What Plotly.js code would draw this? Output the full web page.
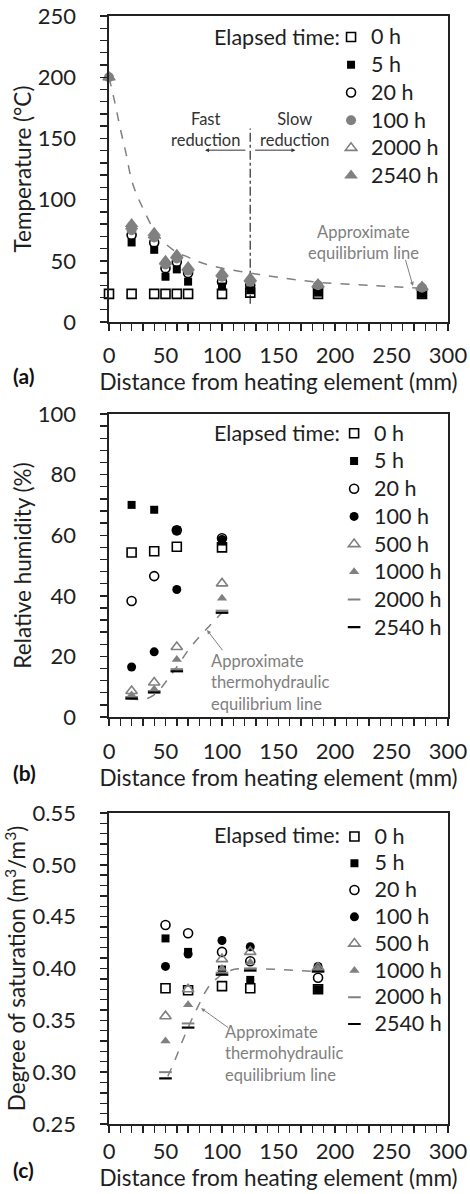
<!DOCTYPE html>
<html>
<head>
<meta charset="utf-8">
<script src="https://cdn.plot.ly/plotly-3.0.1.min.js"></script>
<style>
  html, body { margin: 0; padding: 0; background: #fff; }
  #chart { width: 470px; height: 1194px; }
</style>
</head>
<body>
<div id="chart"></div>
<script>
// ---------- (a) Temperature ----------
const distA = [0, 20, 40, 50, 60, 70, 100, 125, 185, 277];
const tempA_0h = [23, 23, 23, 23, 23, 23, 23, 24, 23, 23];
const tempA_5h = [null, 65, 59, 37, 43, 33, 29, 26, 24, 23];
const tempA_20h = [null, 71, 65, 44, 49, 40, 33, 30, 28, 26];
const tempA_100h = [200, 75, 69, 47, 52, 42, 37, 33, 30, 28];
const tempA_2000h = [200, 78, 71, 49, 54, 44, 39, 35, 30, 28];
const tempA_2540h = [200, 80, 73, 50, 55, 45, 40, 36, 31, 29];
const eqA_x = [0, 5, 10, 15, 20, 25, 30, 40, 50, 60, 70, 80, 100, 125, 150, 185, 230, 277];
const eqA_y = [200, 180, 158, 138, 116, 103, 93, 75, 64, 57, 53, 49, 44, 40, 36.5, 32.5, 30, 27.5];
const boundaryA_x = [125, 125];
const boundaryA_y = [15, 158];
const labelsA = ['0 h', '5 h', '20 h', '100 h', '2000 h', '2540 h'];

// ---------- (b) Relative humidity ----------
const distB = [20, 40, 60, 100];
const rh_0h = [54.3, 54.7, 56.2, 56.0];
const rh_5h = [70.0, 68.4, 61.6, 57.9];
const rh_20h = [38.3, 46.5, 61.6, 59.0];
const rh_100h = [16.5, 21.5, 42.1, 58.6];
const rh_500h = [8.6, 11.4, 23.1, 44.1];
const rh_1000h = [7.3, 9.2, 19.0, 39.2];
const rh_2000h = [6.6, 8.6, 15.8, 35.1];
const rh_2540h = [6.1, 8.1, 15.1, 34.4];
const eqB_x = [18, 25, 30, 35, 40, 45, 50, 55, 60, 70, 80, 90, 100];
const eqB_y = [6, 5.8, 5.8, 6.3, 7.3, 9, 11.5, 14, 16.5, 22, 26.5, 30.5, 34.5];

// ---------- (c) Degree of saturation ----------
const distC = [50, 70, 100, 125, 185];
const sr_0h = [0.381, 0.379, 0.383, 0.381, 0.380];
const sr_5h = [0.429, 0.416, 0.399, 0.389, 0.380];
const sr_20h = [0.442, 0.434, 0.416, 0.407, 0.391];
const sr_100h = [0.402, 0.414, 0.427, 0.421, 0.402];
const sr_500h = [0.354, 0.380, 0.409, 0.416, 0.401];
const sr_1000h = [0.330, 0.365, 0.400, 0.406, 0.400];
const sr_2000h = [0.300, 0.347, 0.396, 0.400, 0.398];
const sr_2540h = [0.294, 0.343, 0.394, 0.398, 0.397];
const eqC_x = [52, 55, 60, 65, 70, 75, 80, 85, 90, 95, 100, 110, 125, 150, 185];
const eqC_y = [0.296, 0.303, 0.316, 0.330, 0.343, 0.355, 0.366, 0.377, 0.385, 0.390, 0.394, 0.399, 0.400, 0.399, 0.397];
const labelsBC = ['0 h', '5 h', '20 h', '100 h', '500 h', '1000 h', '2000 h', '2540 h'];

const GREY = '#808080';
const INK = '#1e1e1e';
const FONT = 'Lato, "Open Sans", sans-serif';

// marker styles for each elapsed time
const mk = {
  open_sq:  {symbol: 'square-open', size: 9, color: '#000', line: {width: 1.6, color: '#000'}},
  fill_sq:  {symbol: 'square', size: 8, color: '#000'},
  open_ci:  {symbol: 'circle-open', size: 9, color: '#000', line: {width: 1.6, color: '#000'}},
  grey_ci:  {symbol: 'circle', size: 10, color: GREY},
  fill_ci:  {symbol: 'circle', size: 9, color: '#000'},
  open_tri: {symbol: 'triangle-up-open', size: 10, color: GREY, line: {width: 1.6, color: GREY}},
  grey_tri: {symbol: 'triangle-up', size: 12, color: GREY},
  grey_tri_s: {symbol: 'triangle-up', size: 9, color: GREY},
  grey_dash: {symbol: 'line-ew', size: 9, color: GREY, line: {width: 2, color: GREY}},
  blk_dash:  {symbol: 'line-ew', size: 9, color: '#000', line: {width: 2.2, color: '#000'}}
};

// legend entries are set a little larger than the legend row pitch
const legendName = (s) => '<span style="font-size:21.5px">' + s + '</span>';

function pts(x, y, name, marker, xa, ya, leg) {
  return {type: 'scatter', mode: 'markers', x: x, y: y, name: legendName(name), marker: marker,
          xaxis: xa, yaxis: ya, legend: leg, cliponaxis: false};
}
function eqLine(x, y, xa, ya) {
  return {type: 'scatter', mode: 'lines', x: x, y: y, xaxis: xa, yaxis: ya, showlegend: false,
          line: {color: GREY, width: 1.5, dash: 'dash', shape: 'spline'}, hoverinfo: 'skip'};
}

const seriesA = [tempA_0h, tempA_5h, tempA_20h, tempA_100h, tempA_2000h, tempA_2540h];
const styleA = [mk.open_sq, mk.fill_sq, mk.open_ci, mk.grey_ci, mk.open_tri, mk.grey_tri];
const seriesB = [rh_0h, rh_5h, rh_20h, rh_100h, rh_500h, rh_1000h, rh_2000h, rh_2540h];
const seriesC = [sr_0h, sr_5h, sr_20h, sr_100h, sr_500h, sr_1000h, sr_2000h, sr_2540h];
const styleBC = [mk.open_sq, mk.fill_sq, mk.open_ci, mk.fill_ci, mk.open_tri, mk.grey_tri_s, mk.grey_dash, mk.blk_dash];

const traces = [];
traces.push(eqLine(eqA_x, eqA_y, 'x', 'y'));
traces.push({type: 'scatter', mode: 'lines', x: boundaryA_x, y: boundaryA_y, xaxis: 'x', yaxis: 'y',
             showlegend: false, line: {color: '#555', width: 1.5, dash: 'dashdot'}, hoverinfo: 'skip'});
seriesA.forEach((s, i) => traces.push(pts(distA, s, labelsA[i], styleA[i], 'x', 'y', 'legend')));
traces.push(eqLine(eqB_x, eqB_y, 'x2', 'y2'));
seriesB.forEach((s, i) => traces.push(pts(distB, s, labelsBC[i], styleBC[i], 'x2', 'y2', 'legend2')));
traces.push(eqLine(eqC_x, eqC_y, 'x3', 'y3'));
seriesC.forEach((s, i) => traces.push(pts(distC, s, labelsBC[i], styleBC[i], 'x3', 'y3', 'legend3')));

const tickFont = {family: FONT, size: 22, color: INK};
const titleFont = {family: FONT, size: 22.5, color: INK};

function xAxis(anchor, labelOff, standoff) {
  return {
    anchor: anchor, domain: [0, 1], range: [0, 300], dtick: 50, tick0: 0,
    showline: true, mirror: true, linecolor: '#222', linewidth: 1.6,
    ticks: 'outside', ticklen: 7, tickwidth: 1.4, tickcolor: '#222',
    minor: {dtick: 10, ticks: 'outside', ticklen: 7, tickwidth: 1.4, tickcolor: '#222'},
    showgrid: false, zeroline: false, tickfont: tickFont, ticklabelstandoff: labelOff,
    title: {text: 'Distance from heating element (mm)', font: titleFont, standoff: standoff}
  };
}
function yAxis(anchor, domain, range, dtick, minorDtick, title, fmt) {
  return {
    anchor: anchor, domain: domain, range: range, dtick: dtick, tick0: range[0],
    showline: true, mirror: true, linecolor: '#222', linewidth: 1.6,
    ticks: 'outside', ticklen: 7, tickwidth: 1.4, tickcolor: '#222',
    minor: {dtick: minorDtick, ticks: 'outside', ticklen: 7, tickwidth: 1.4, tickcolor: '#222'},
    showgrid: false, zeroline: false, tickfont: tickFont, tickformat: fmt, ticklabelstandoff: 20,
    title: {text: title, font: titleFont, standoff: 0}
  };
}

function legendAt(x, y, size) {
  return {x: x, y: y, xanchor: 'left', yanchor: 'top', xref: 'paper', yref: 'paper',
          bgcolor: 'rgba(0,0,0,0)', font: {family: FONT, size: size, color: INK},
          itemclick: false, itemdoubleclick: false};
}

const annFont = {family: FONT, size: 16.5, color: '#333'};
const greyFont = {family: FONT, size: 16.5, color: GREY};
const headFont = {family: FONT, size: 21.5, color: INK};

const annotations = [
  // legend headers
  {xref: 'paper', yref: 'paper', x: 0.687, y: 0.9811, xanchor: 'right', yanchor: 'middle', showarrow: false,
   text: 'Elapsed time:', font: headFont},
  {xref: 'paper', yref: 'paper', x: 0.687, y: 0.6233, xanchor: 'right', yanchor: 'middle', showarrow: false,
   text: 'Elapsed time:', font: headFont},
  {xref: 'paper', yref: 'paper', x: 0.687, y: 0.2605, xanchor: 'right', yanchor: 'middle', showarrow: false,
   text: 'Elapsed time:', font: headFont},
  // panel (a) notes
  {xref: 'x', yref: 'y', x: 85, y: 157, text: 'Fast<br>reduction', showarrow: false, font: annFont, align: 'center'},
  {xref: 'x', yref: 'y', x: 164, y: 157, text: 'Slow<br>reduction', showarrow: false, font: annFont, align: 'center'},
  {xref: 'x', yref: 'y', x: 85, y: 140.4, axref: 'x', ayref: 'y', ax: 122, ay: 140.4, text: '',
   showarrow: true, arrowhead: 2, arrowsize: 0.8, arrowwidth: 1, arrowcolor: '#333'},
  {xref: 'x', yref: 'y', x: 165, y: 140.4, axref: 'x', ayref: 'y', ax: 128, ay: 140.4, text: '',
   showarrow: true, arrowhead: 2, arrowsize: 0.8, arrowwidth: 1, arrowcolor: '#333'},
  {xref: 'x', yref: 'y', x: 225, y: 65.2, text: 'Approximate<br>equilibrium line', showarrow: false, font: greyFont, align: 'center'},
  {xref: 'x', yref: 'y', x: 269, y: 29.5, axref: 'x', ayref: 'y', ax: 262, ay: 52, text: '',
   showarrow: true, arrowhead: 2, arrowsize: 0.8, arrowwidth: 1, arrowcolor: GREY},
  // panel (b) note
  {xref: 'x2', yref: 'y2', x: 88.8, y: 11.4, xanchor: 'left', text: 'Approximate<br>thermohydraulic<br>equilibrium line',
   showarrow: false, font: greyFont, align: 'left'},
  {xref: 'x2', yref: 'y2', x: 86.8, y: 28.7, axref: 'x2', ayref: 'y2', ax: 101.5, ay: 21.5, text: '',
   showarrow: true, arrowhead: 2, arrowsize: 0.8, arrowwidth: 1, arrowcolor: GREY},
  // panel (c) note
  {xref: 'x3', yref: 'y3', x: 100.7, y: 0.3183, xanchor: 'left', text: 'Approximate<br>thermohydraulic<br>equilibrium line',
   showarrow: false, font: greyFont, align: 'left'},
  {xref: 'x3', yref: 'y3', x: 81.5, y: 0.3617, axref: 'x3', ayref: 'y3', ax: 106.7, ay: 0.342, text: '',
   showarrow: true, arrowhead: 2, arrowsize: 0.8, arrowwidth: 1, arrowcolor: GREY},
  // panel letters
  {xref: 'paper', yref: 'paper', x: -0.29, y: 0.6753, xanchor: 'left', yanchor: 'middle', showarrow: false,
   text: '<b>(a)</b>', font: {family: FONT, size: 21, color: '#111'}},
  {xref: 'paper', yref: 'paper', x: -0.29, y: 0.3168, xanchor: 'left', yanchor: 'middle', showarrow: false,
   text: '<b>(b)</b>', font: {family: FONT, size: 21, color: '#111'}},
  {xref: 'paper', yref: 'paper', x: -0.29, y: -0.0415, xanchor: 'left', yanchor: 'middle', showarrow: false,
   text: '<b>(c)</b>', font: {family: FONT, size: 21, color: '#111'}}
];

const layout = {
  width: 470, height: 1194,
  margin: {l: 109, r: 22, t: 16, b: 70},
  paper_bgcolor: '#fff', plot_bgcolor: '#fff',
  font: {family: FONT, color: INK},
  showlegend: true,
  xaxis: xAxis('y', 6, 4),
  yaxis: yAxis('x', [0.7238, 1], [0, 250], 50, 10, 'Temperature (°C)', 'd'),
  xaxis2: xAxis('y2', 7, 6),
  yaxis2: yAxis('x2', [0.3673, 0.6408], [0, 100], 20, 4, 'Relative humidity (%)', 'd'),
  xaxis3: xAxis('y3', 8.5, 0),
  yaxis3: yAxis('x3', [0, 0.2807], [0.25, 0.55], 0.05, 0.01, 'Degree of saturation (m<sup>3</sup>/m<sup>3</sup>)', '.2f'),
  legend: legendAt(0.655, 0.998, 19),
  legend2: legendAt(0.664, 0.6404, 19),
  legend3: legendAt(0.665, 0.2761, 18.3),
  annotations: annotations
};

Plotly.newPlot('chart', traces, layout, {staticPlot: true, displayModeBar: false});
</script>
</body>
</html>
